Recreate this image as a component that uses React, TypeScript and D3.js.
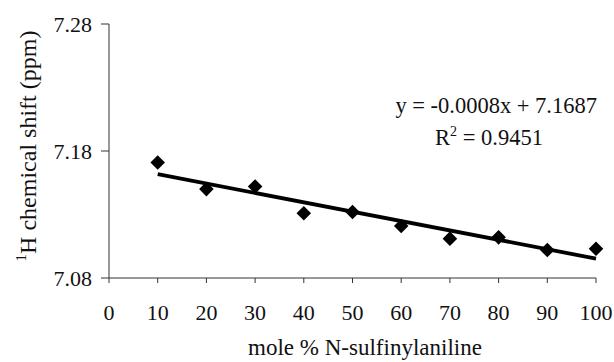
import React from "react";
import * as d3 from "d3";

const xValues = [10, 20, 30, 40, 50, 60, 70, 80, 90, 100];
const yValues = [7.171, 7.150, 7.152, 7.131, 7.132, 7.121, 7.111, 7.112, 7.102, 7.103];
const xTicks = [0, 10, 20, 30, 40, 50, 60, 70, 80, 90, 100];
const yTicks = [7.08, 7.18, 7.28];
const equationText = "y = -0.0008x + 7.1687";
const r2Value = "0.9451";

const W = 614;
const H = 362;

export default function App() {
  const x = d3.scaleLinear().domain([0, 100]).range([109, 596]);
  const y = d3.scaleLinear().domain([7.08, 7.28]).range([278, 24]);

  const n = xValues.length;
  const mx = d3.mean(xValues) as number;
  const my = d3.mean(yValues) as number;
  let sxy = 0, sxx = 0;
  for (let i = 0; i < n; i++) {
    sxy += (xValues[i] - mx) * (yValues[i] - my);
    sxx += (xValues[i] - mx) ** 2;
  }
  const slope = sxy / sxx;
  const intercept = my - slope * mx;
  const x0 = d3.min(xValues) as number;
  const x1 = d3.max(xValues) as number;
  const line = d3.line<number>().x((d) => x(d)).y((d) => y(slope * d + intercept));

  const diamond = d3.symbol().type(d3.symbolDiamond2).size(135)();
  const font = "'Liberation Serif', 'Times New Roman', serif";

  return (
    <svg width={W} height={H} style={{ position: "absolute", left: 0, top: 0, background: "#fff" }}
      fontFamily={font}>
      <rect x={0} y={0} width={W} height={H} fill="#fff" />
      {/* axes */}
      <line x1={x(0)} x2={x(0)} y1={y(7.28)} y2={y(7.08)} stroke="#333" strokeWidth={1} />
      <line x1={x(0)} x2={x(100)} y1={y(7.08)} y2={y(7.08)} stroke="#333" strokeWidth={1} />
      {yTicks.map((t) => (
        <g key={"y" + t}>
          <line x1={x(0) - 8} x2={x(0)} y1={y(t)} y2={y(t)} stroke="#333" />
          <text x={x(0) - 17} y={y(t)} dy="0.35em" textAnchor="end" fontSize={22} fill="#111">
            {t.toFixed(2)}
          </text>
        </g>
      ))}
      {xTicks.map((t) => (
        <g key={"x" + t}>
          <line x1={x(t)} x2={x(t)} y1={y(7.08)} y2={y(7.08) + 5} stroke="#333" />
          <text x={x(t)} y={y(7.08) + 42} textAnchor="middle" fontSize={22} fill="#111">
            {t}
          </text>
        </g>
      ))}
      {/* trendline */}
      <path d={line([x0, x1]) as string} stroke="#000" strokeWidth={3.8} fill="none" />
      {/* points */}
      {xValues.map((xv, i) => (
        <path key={i} d={diamond as string} transform={`translate(${x(xv)},${y(yValues[i])})`} fill="#000" />
      ))}
      {/* equation */}
      <text x={597} y={113} textAnchor="end" fontSize={22.5} fill="#111">{equationText}</text>
      <text x={489} y={145} textAnchor="middle" fontSize={22.5} fill="#111">
        R<tspan fontSize={14} dy={-9}>2</tspan><tspan dy={9}> = {r2Value}</tspan>
      </text>
      {/* axis titles */}
      <text x={365} y={355} textAnchor="middle" fontSize={23} fill="#111">mole % N-sulfinylaniline</text>
      <text transform={`translate(36,146) rotate(-90)`} textAnchor="middle" fontSize={24} fill="#111">
        <tspan fontSize={15} dy={-10}>1</tspan><tspan dy={10}>H chemical shift (ppm)</tspan>
      </text>
    </svg>
  );
}
